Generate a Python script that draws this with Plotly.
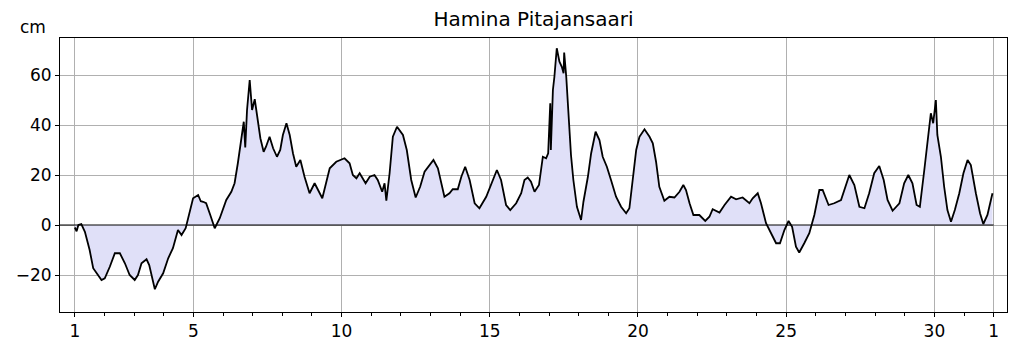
import plotly.graph_objects as go

title = "Hamina Pitajansaari"
unit = "cm"

days = [1.0, 1.06, 1.12, 1.22, 1.34, 1.5, 1.62, 1.9, 2.01, 2.18, 2.35, 2.52, 2.69, 2.85, 3.02,
        3.13, 3.25, 3.42, 3.51, 3.62, 3.70, 3.81, 3.98, 4.15, 4.31, 4.48, 4.6, 4.74, 4.88,
        4.99, 5.16, 5.25, 5.33, 5.43, 5.57, 5.72, 5.89, 6.11, 6.28, 6.39, 6.5, 6.62, 6.70,
        6.75, 6.81, 6.90, 6.98, 7.07, 7.16, 7.26, 7.37, 7.45, 7.57, 7.69, 7.82, 7.93, 8.02,
        8.14, 8.25, 8.36, 8.47, 8.61, 8.75, 8.92, 9.09, 9.35, 9.60, 9.82, 10.1, 10.27, 10.38,
        10.5, 10.61, 10.81, 10.95, 11.11, 11.22, 11.37, 11.45, 11.51, 11.62, 11.73, 11.87,
        12.07, 12.20, 12.35, 12.5, 12.65, 12.80, 12.97, 13.10, 13.25, 13.47, 13.64, 13.75,
        13.92, 14.04, 14.17, 14.32, 14.49, 14.65, 14.88, 15.05, 15.24, 15.38, 15.55, 15.69,
        15.89, 16.06, 16.17, 16.28, 16.39, 16.51, 16.66, 16.79, 16.9, 16.97, 17.04, 17.06,
        17.13, 17.18, 17.26, 17.35, 17.43, 17.49, 17.51, 17.58, 17.67, 17.74, 17.82, 17.94,
        18.08, 18.16, 18.31, 18.42, 18.57, 18.70, 18.81, 18.95, 19.09, 19.26, 19.43, 19.60,
        19.71, 19.82, 19.94, 20.05, 20.22, 20.39, 20.5, 20.61, 20.72, 20.89, 21.06, 21.23,
        21.4, 21.53, 21.62, 21.74, 21.87, 22.07, 22.27, 22.41, 22.52, 22.75, 22.92, 23.14,
        23.31, 23.53, 23.76, 23.87, 24.04, 24.15, 24.32, 24.49, 24.66, 24.79, 24.94, 25.08,
        25.2, 25.33, 25.44, 25.61, 25.78, 25.95, 26.12, 26.23, 26.43, 26.62, 26.85, 27.13,
        27.3, 27.47, 27.64, 27.80, 27.97, 28.14, 28.29, 28.42, 28.59, 28.82, 28.98, 29.12,
        29.26, 29.40, 29.51, 29.66, 29.80, 29.88, 29.96, 30.05, 30.1, 30.22, 30.33, 30.44,
        30.56, 30.69, 30.84, 30.98, 31.12, 31.23, 31.40, 31.54, 31.65, 31.79, 31.96]

levels = [-1.0, -2.5, 0.0, 0.4, -2.7, -10, -17.3, -22, -21.3, -16.7, -11.3, -11.3, -15.3, -20, -22,
          -20, -15.3, -13.7, -16, -22, -25.7, -22.7, -19.3, -13.3, -9.3, -2, -4, -1.3, 6,
          10.7, 12, 9.5, 9.3, 8.7, 4, -1.3, 2.7, 10, 13.3, 16.7, 24.7, 36, 41.3,
          31, 46, 58, 46, 50.3, 43.3, 34.7, 29.3, 31.3, 35.3, 30.7, 27.3, 30, 36,
          40.7, 36, 28.7, 23.3, 26, 19.3, 12.7, 16.7, 10.7, 22.7, 25.3, 26.7, 24.7, 20,
          18.7, 20.7, 16.7, 19.3, 20, 18, 13.3, 16.7, 9.7, 20.7, 35.3, 39.3,
          36, 30, 18, 11, 15.3, 21.3, 24, 26, 22.7, 11.3, 12.7, 14.3,
          14.3, 19.3, 23.3, 18, 8.7, 6.7, 11.3, 16.7, 22, 18, 8, 6,
          8.7, 12.7, 18, 19, 17.3, 13.3, 16, 27.3, 26.7, 28.7, 48.7, 30,
          54, 59.3, 70.7, 65.3, 63.3, 60.7, 69, 59.3, 40.7, 28, 18, 7.3,
          2, 9.3, 19.3, 28.7, 37.3, 34, 27.3, 23.3, 18, 11.3, 7.3, 4.7,
          6.7, 18, 30, 35.3, 38.3, 35.3, 32.7, 25.3, 15.3, 9.7, 11.3, 11,
          13.3, 16, 14, 8.7, 4, 4, 1.6, 3.3, 6.3, 5, 8, 11.3,
          10.3, 11, 8.7, 10.7, 12.7, 8.7, 0.7, -3.3, -7.3, -7.3, -2, 1.6,
          -0.7, -8.7, -11, -7.3, -3.3, 4, 14, 14, 8, 8.7, 10, 20,
          16, 7.3, 6.7, 12.7, 20.7, 23.6, 18, 10, 5.7, 8.7, 16.7, 20,
          16.7, 8, 7.3, 22, 38, 44.7, 40.7, 50, 36, 27.3, 15.3, 6,
          1.3, 6, 12.7, 20.7, 26, 24, 12.7, 4.7, 0.4, 4, 12.7]

tick_vals = [1, 5, 10, 15, 20, 25, 30, 32]
tick_text = ["1", "5", "10", "15", "20", "25", "30", "1"]
y_ticks = [-20, 0, 20, 40, 60]

fig = go.Figure()
fig.add_trace(go.Scatter(
    x=days, y=levels, mode="lines", fill="tozeroy",
    fillcolor="rgba(224,224,248,1)",
    line=dict(color="black", width=1.8),
    hoverinfo="x+y", showlegend=False,
))

fig.add_shape(type="line", xref="x", yref="y", x0=0.5, x1=32, y0=0, y1=0,
              line=dict(color="black", width=1), layer="above")

font = "DejaVu Sans, sans-serif"
fig.update_layout(
    width=1019, height=352,
    margin=dict(l=60, r=12, t=38, b=40),
    paper_bgcolor="white", plot_bgcolor="white",
    font=dict(family=font, size=17, color="black"),
    title=dict(text=title, x=0.5, xanchor="center", xref="paper",
               y=1 - 19 / 352, yanchor="middle", font=dict(size=20, family=font)),
    annotations=[dict(text=unit, xref="paper", yref="paper", x=-0.013, y=1.04,
                      xanchor="right", yanchor="middle", showarrow=False,
                      font=dict(size=17, family=font))],
)

fig.update_xaxes(
    range=[0.5, 32.45], tickmode="array", tickvals=tick_vals, ticktext=tick_text,
    showgrid=True, gridcolor="#b0b0b0", gridwidth=1,
    showline=True, linecolor="black", linewidth=1, mirror=True,
    ticks="outside", ticklen=4, tickcolor="black", tickwidth=1,
    zeroline=False,
    minor=dict(tickmode="linear", tick0=1, dtick=1, ticks="outside", ticklen=3,
               tickcolor="black", showgrid=False),
)
fig.update_yaxes(
    range=[-34.8, 74.8], tickmode="array", tickvals=y_ticks,
    showgrid=True, gridcolor="#b0b0b0", gridwidth=1,
    showline=True, linecolor="black", linewidth=1, mirror=True,
    ticks="outside", ticklen=4, tickcolor="black", tickwidth=1,
    zeroline=False,
)

fig.write_html("out.html")
